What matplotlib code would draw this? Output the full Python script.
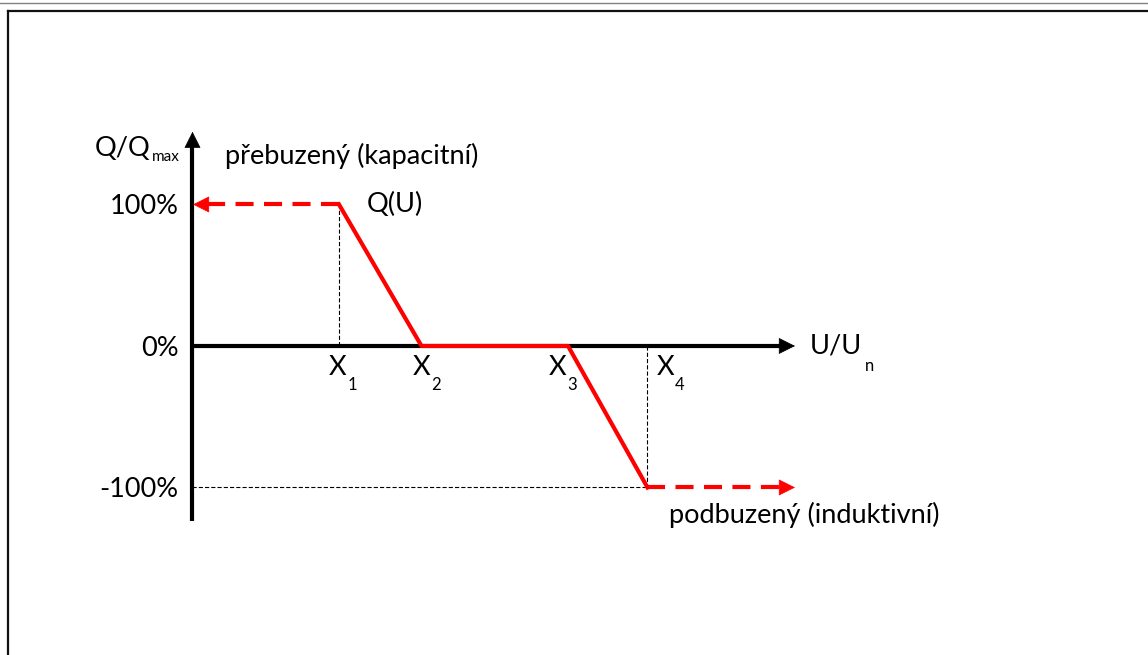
import matplotlib.pyplot as plt
from matplotlib.lines import Line2D

plt.rcParams['font.family'] = ['Lato', 'DejaVu Sans']
plt.rcParams['lines.scale_dashes'] = False

# break points of the Q(U) characteristic (U axis in arbitrary units)
x_names = ['1', '2', '3', '4']
x_pts = [1.465, 2.29, 3.755, 4.55]
q_curve = [100, 0, 0, -100]
q_ticks = [100, 0, -100]
q_labels = ['100%', '0%', '-100%']

RED = '#ff0000'

fig = plt.figure(figsize=(11.48, 6.55), dpi=100)
ax = fig.add_axes([0, 0, 1, 1])
ax.set_xlim(-1.925, 9.555)
ax.set_ylim(-218.4, 244.5)
ax.axis('off')

# frame of the original picture
fig.add_artist(Line2D([0, 1], [1 - 2.5/655, 1 - 2.5/655], color='#808080', lw=1.0))
fig.add_artist(Line2D([8/1148, 1], [1 - 10.5/655, 1 - 10.5/655], color='#111111', lw=1.6))
fig.add_artist(Line2D([8/1148, 8/1148], [0, 1 - 10.5/655], color='#111111', lw=1.6))

# axes with arrow heads
x_end = 6.025
y_top, y_bot = 151.4, -123.7
head = '-|>,head_length=0.6,head_width=0.3'
ax.plot([0, 0], [y_bot, y_top - 10], color='k', lw=3, solid_capstyle='butt', zorder=2)
ax.annotate('', xy=(0, y_top), xytext=(0, y_top - 10.6),
            arrowprops=dict(arrowstyle=head, mutation_scale=18, color='k', lw=0.5,
                            shrinkA=0, shrinkB=0), zorder=2)
ax.plot([0, x_end - 0.1], [0, 0], color='k', lw=3, solid_capstyle='butt', zorder=2)
ax.annotate('', xy=(x_end, 0), xytext=(x_end - 0.15, 0),
            arrowprops=dict(arrowstyle=head, mutation_scale=18, color='k', lw=0.5,
                            shrinkA=0, shrinkB=0), zorder=2)

# thin helper lines
thin = dict(color='k', lw=0.8, dashes=(3, 1.5), zorder=1)
ax.plot([x_pts[0], x_pts[0]], [q_curve[0], q_curve[1]], **thin)
ax.plot([x_pts[3], x_pts[3]], [q_curve[2], q_curve[3]], **thin)
ax.plot([0, x_pts[3]], [q_curve[3], q_curve[3]], **thin)

# Q(U) curve
ax.plot(x_pts, q_curve, color=RED, lw=3, zorder=4)

# saturation parts, dashed with arrows
red_head = dict(arrowstyle=head, mutation_scale=18, color=RED, lw=0.5, shrinkA=0, shrinkB=0)
ax.plot([x_pts[0], 0.15], [q_curve[0], q_curve[0]], color=RED, lw=3, dashes=(13, 7.5), zorder=4)
ax.annotate('', xy=(0.005, q_curve[0]), xytext=(0.16, q_curve[0]), arrowprops=red_head, zorder=4)
ax.plot([x_pts[3], x_end - 0.15], [q_curve[3], q_curve[3]], color=RED, lw=3, dashes=(13, 7.5), zorder=4)
ax.annotate('', xy=(x_end, q_curve[3]), xytext=(x_end - 0.16, q_curve[3]), arrowprops=red_head, zorder=4)

fs = 19.5
for q, lab in zip(q_ticks, q_labels):
    ax.text(-0.14, q - 1.5, lab, ha='right', va='center', fontsize=fs)

# X labels with subscripts
x_off = [-0.10, -0.09, -0.19, 0.09]
for xp, off, n in zip(x_pts, x_off, x_names):
    t = ax.text(xp + off, -20.5, 'X', ha='left', va='baseline', fontsize=fs)
    ax.annotate(n, xy=(1, 0), xycoords=t, xytext=(0.5, -7), textcoords='offset points',
                ha='left', va='baseline', fontsize=12)

t = ax.text(-0.975, 134.0, 'Q/Q', ha='left', va='baseline', fontsize=fs)
ax.annotate('max', xy=(1, 0), xycoords=t, xytext=(1, 0), textcoords='offset points',
            ha='left', va='baseline', fontsize=11)
ax.text(0.33, 128.6, 'přebuzený (kapacitní)', ha='left', va='baseline', fontsize=fs)
ax.text(1.745, 94.6, 'Q(U)', ha='left', va='baseline', fontsize=fs)

t = ax.text(6.175, -5.0, 'U/U', ha='left', va='baseline', fontsize=fs)
ax.annotate('n', xy=(1, 0), xycoords=t, xytext=(2, -9), textcoords='offset points',
            ha='left', va='baseline', fontsize=12)
ax.text(4.765, -125.3, 'podbuzený (induktivní)', ha='left', va='baseline', fontsize=fs)

fig.savefig('out.png', dpi=100)
